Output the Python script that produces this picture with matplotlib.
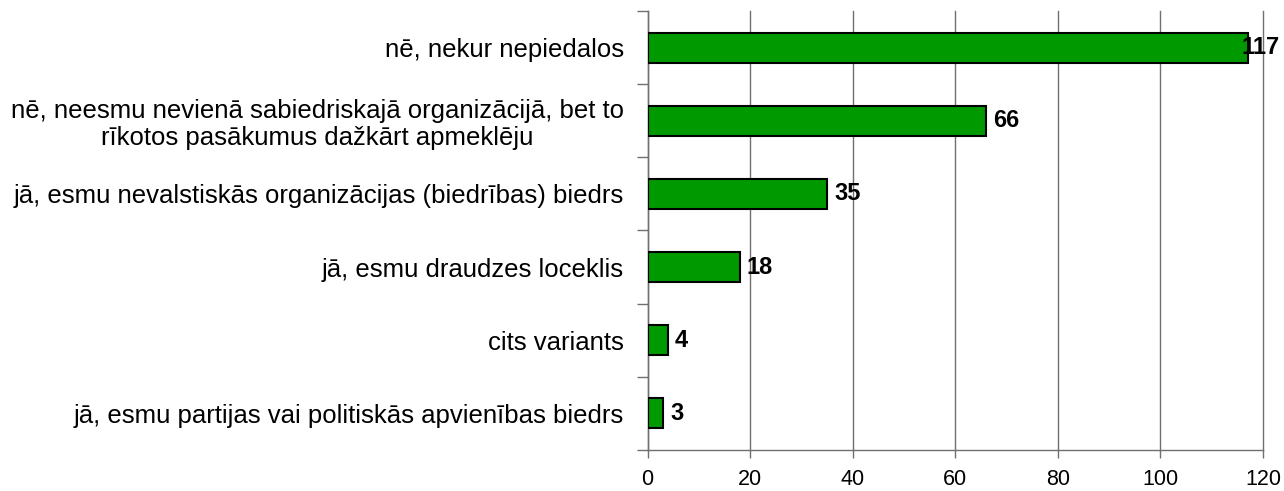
import matplotlib
matplotlib.use("Agg")
import matplotlib.pyplot as plt
import numpy as np

plt.rcParams['font.family'] = ['Liberation Sans', 'DejaVu Sans']

categories = [
    "nē, nekur nepiedalos",
    "nē, neesmu nevienā sabiedriskajā organizācijā, bet to\nrīkotos pasākumus dažkārt apmeklēju",
    "jā, esmu nevalstiskās organizācijas (biedrības) biedrs",
    "jā, esmu draudzes loceklis",
    "cits variants",
    "jā, esmu partijas vai politiskās apvienības biedrs",
]
values = [117, 66, 35, 18, 4, 3]
xticks = [0, 20, 40, 60, 80, 100, 120]

fig = plt.figure(figsize=(12.84, 4.91), dpi=100)
ax = fig.add_axes([0.5044, 0.0835, 0.4792, 0.8941])

y = np.arange(len(categories))
ax.barh(y, values, height=0.41, color='#009900', edgecolor='black', linewidth=1.5, zorder=3)

xmax = 120
for yi, v in zip(y, values):
    if v + 8 > xmax:
        # no room on the right: pull the label back so it stays in the picture
        ax.annotate(str(v), (xmax, yi), xytext=(12, 0), textcoords='offset points',
                    va='center', ha='right', fontsize=17, fontweight='bold', zorder=4)
    else:
        ax.annotate(str(v), (v, yi), xytext=(5, 0), textcoords='offset points',
                    va='center', ha='left', fontsize=17, fontweight='bold', zorder=4)

ax.set_xlim(0, xmax)
ax.set_ylim(len(categories) - 0.5, -0.5)
ax.set_xticks(xticks)
ax.set_xticklabels([str(t) for t in xticks], fontsize=15.5)
ax.xaxis.grid(True, color='#707070', linewidth=1, zorder=0)
for gl in ax.get_xgridlines():
    gl.set_clip_on(False)

# labels at category centres, tick marks at boundaries
ax.set_yticks(y)
ax.set_yticklabels(categories, fontsize=18.5, multialignment='center', linespacing=1.15)
ax.tick_params(axis='y', length=0, pad=17)
ax.set_yticks(np.arange(-0.5, len(categories), 1), minor=True)
ax.tick_params(axis='y', which='minor', length=8, color='#707070', width=1)
ax.tick_params(axis='x', length=6, color='#707070', width=1, pad=8)

for s in ['top', 'right']:
    ax.spines[s].set_visible(False)
for s in ['left', 'bottom']:
    ax.spines[s].set_color('#707070')
    ax.spines[s].set_linewidth(1)

fig.savefig('out.png', dpi=100, facecolor='white')
